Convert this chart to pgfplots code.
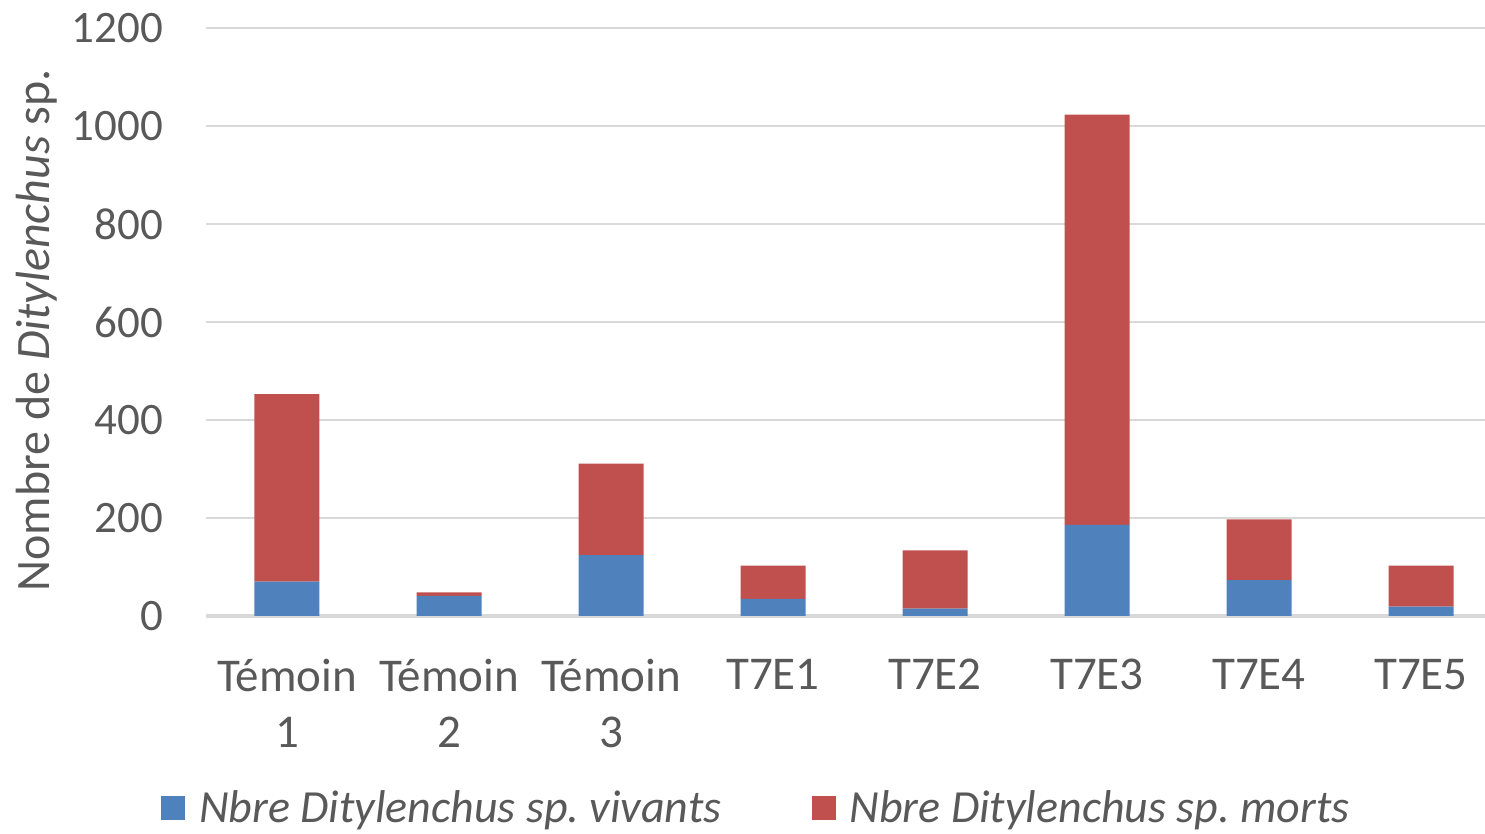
\documentclass[border=0pt]{standalone}
\usepackage{pgfplots}
\pgfplotsset{compat=1.18}
\usepackage{fontspec}
\setmainfont{Carlito}
\frenchspacing
\definecolor{sblue}{HTML}{4F81BD}
\definecolor{sred}{HTML}{C0504D}
\definecolor{gridc}{HTML}{D9D9D9}
\definecolor{txt}{HTML}{595959}
\begin{document}
\begin{tikzpicture}
\begin{axis}[
  at={(0,0)}, anchor=south west,
  scale only axis,
  width=639.5pt, height=294pt,
  ybar stacked, bar width=32.5pt,
  xmin=-0.5, xmax=7.395,
  ymin=0, ymax=1200,
  ytick={0,200,...,1200},
  xtick={0,...,7},
  xticklabels={{Témoin\\1},{Témoin\\2},{Témoin\\3},T7E1,T7E2,T7E3,T7E4,T7E5},
  xticklabel style={align=center, font=\fontsize{23.5}{28}\selectfont, text=txt, yshift=-18pt},
  yticklabel style={font=\fontsize{22.5}{26}\selectfont, text=txt, xshift=-18pt},
  /pgf/number format/assume math mode=true,
  /pgf/number format/1000 sep={},
  major tick length=0pt,
  axis line style={draw=none},
  ymajorgrids, grid style={gridc, line width=1pt},
  extra y ticks={0}, extra y tick labels={},
  extra y tick style={grid style={gridc, line width=1.6pt}},
  ylabel={Nombre de \textit{Ditylenchus} sp.},
  ylabel style={at={(axis description cs:-0.132,0.486)}, anchor=center, font=\fontsize{24}{26}\selectfont, text=txt},
  legend style={at={(0.431,-0.327)}, anchor=center, draw=none, legend columns=2,
    font=\fontsize{23}{26}\selectfont\itshape, text=txt,
    /tikz/every odd column/.append style={column sep=5pt},
    /tikz/every even column/.append style={column sep=43pt}},
  legend image code/.code={\fill[#1] (0pt,-6pt) rectangle (12pt,6pt);},
]
\addplot[fill=sblue, draw=none] coordinates {(0,70) (1,41) (2,124) (3,35) (4,15) (5,186) (6,73) (7,19)};
\addplot[fill=sred, draw=none] coordinates {(0,383) (1,7) (2,187) (3,68) (4,119) (5,837) (6,124) (7,84)};
\legend{Nbre Ditylenchus sp. vivants, Nbre Ditylenchus sp. morts}
\end{axis}
\pgfresetboundingbox
\path[use as bounding box] (-103pt,-109pt) rectangle (639.5pt,308pt);
\end{tikzpicture}
\end{document}
